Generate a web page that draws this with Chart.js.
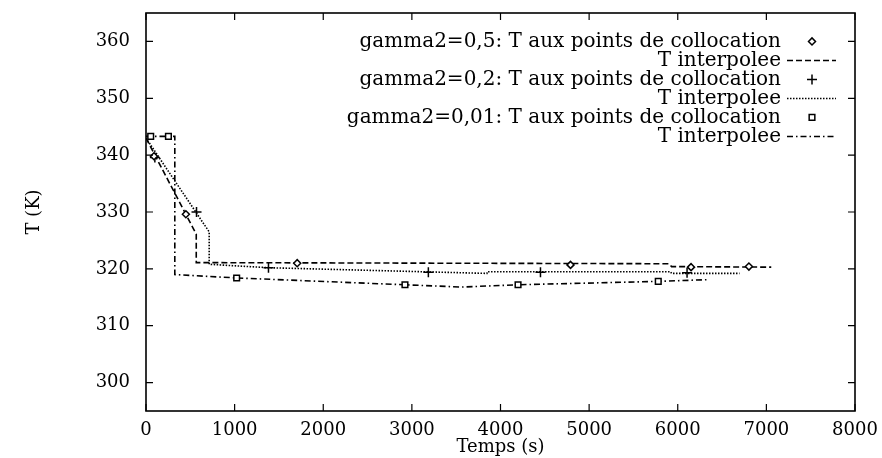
<!DOCTYPE html>
<html>
<head>
<meta charset="utf-8">
<script src="https://cdn.jsdelivr.net/npm/chart.js@4.4.0/dist/chart.umd.min.js"></script>
<style>
  html, body { margin: 0; padding: 0; background: #fff; }
  #wrap { width: 882px; height: 458px; }
</style>
</head>
<body>
<div id="wrap"><canvas id="c" width="882" height="458"></canvas></div>
<script>
// tick labels
const xTicks = [0, 1000, 2000, 3000, 4000, 5000, 6000, 7000, 8000]
const yTicks = [300, 310, 320, 330, 340, 350, 360]

// gamma2=0,5
const t05Pts = [90, 450, 1706, 4790, 6150, 6803]
const T05Pts = [339.8, 329.6, 321.0, 320.7, 320.3, 320.4]
const t05Line = [0, 567, 567, 5900, 5930, 7055]
const T05Line = [343, 326.1, 321.1, 320.9, 320.4, 320.3]

// gamma2=0,2
const t02Pts = [100, 570, 1382, 3186, 4451, 6105]
const T02Pts = [339.6, 330.0, 320.2, 319.4, 319.4, 319.3]
const t02Line = [0, 713, 713, 1382, 3847, 3850, 5920, 5930, 6697]
const T02Line = [343, 326.5, 320.8, 320.2, 319.2, 319.5, 319.5, 319.2, 319.2]

// gamma2=0,01
const t001Pts = [53, 253, 1023, 2922, 4198, 5780]
const T001Pts = [343.3, 343.3, 318.4, 317.2, 317.2, 317.8]
const t001Line = [0, 325, 325, 1023, 2922, 3560, 4198, 5780, 6340]
const T001Line = [343.3, 343.3, 319.0, 318.4, 317.2, 316.8, 317.2, 317.8, 318.1]

const FONT = '"DejaVu Serif", "Liberation Serif", serif'

let pairs = (xs, ys) => xs.map((x, i) => ({ x: x, y: ys[i] }))

function ptSet(label, xs, ys, style, r) {
  return {
    label: label, data: pairs(xs, ys), showLine: false,
    pointStyle: style, pointRadius: r, pointBorderColor: '#000',
    pointBackgroundColor: '#fff', pointBorderWidth: 1.5
  }
}
function lineSet(label, xs, ys, dash) {
  return {
    label: label, data: pairs(xs, ys), showLine: true, pointRadius: 0,
    borderColor: '#000', borderWidth: 1.6, borderDash: dash, tension: 0
  }
}

const datasets = [
  ptSet('gamma2=0,5: T aux points de collocation', t05Pts, T05Pts, 'rectRot', 3.5),
  lineSet('T interpolee', t05Line, T05Line, [6, 3]),
  ptSet('gamma2=0,2: T aux points de collocation', t02Pts, T02Pts, 'cross', 5),
  lineSet('T interpolee', t02Line, T02Line, [1.5, 1.5]),
  ptSet('gamma2=0,01: T aux points de collocation', t001Pts, T001Pts, 'rect', 4),
  lineSet('T interpolee', t001Line, T001Line, [6, 3, 1.5, 3])
]

//frame, inward ticks and legend
const framePlugin = {
  id: 'frame',
  afterDraw(chart) {
    let ctx = chart.ctx
    let a = chart.chartArea
    let sx = chart.scales.x, sy = chart.scales.y
    ctx.save()
    ctx.strokeStyle = '#000'
    ctx.lineWidth = 1.6
    ctx.setLineDash([])
    ctx.strokeRect(a.left, a.top, a.right - a.left, a.bottom - a.top)
    ctx.lineWidth = 1.2
    ctx.beginPath()
    for (let v of xTicks) {
      let px = sx.getPixelForValue(v)
      ctx.moveTo(px, a.bottom); ctx.lineTo(px, a.bottom - 7)
      ctx.moveTo(px, a.top); ctx.lineTo(px, a.top + 7)
    }
    for (let v of yTicks) {
      let py = sy.getPixelForValue(v)
      ctx.moveTo(a.left, py); ctx.lineTo(a.left + 7, py)
      ctx.moveTo(a.right, py); ctx.lineTo(a.right - 7, py)
    }
    ctx.stroke()

    // legend
    let textX = a.right - 74
    let y0 = sy.getPixelForValue(360)
    ctx.font = '20px ' + FONT
    ctx.fillStyle = '#000'
    ctx.textAlign = 'right'
    ctx.textBaseline = 'middle'
    datasets.forEach((ds, i) => {
      let y = y0 + i * 19
      ctx.fillText(ds.label, textX, y)
      if (ds.showLine) {
        ctx.lineWidth = ds.borderWidth
        ctx.setLineDash(ds.borderDash)
        ctx.beginPath()
        ctx.moveTo(a.right - 68, y); ctx.lineTo(a.right - 19, y)
        ctx.stroke()
        ctx.setLineDash([])
      } else {
        ctx.lineWidth = ds.pointBorderWidth
        ctx.fillStyle = '#fff'
        Chart.helpers.drawPoint(ctx, { pointStyle: ds.pointStyle, radius: ds.pointRadius, borderWidth: 1 }, a.right - 43, y)
        ctx.fillStyle = '#000'
      }
    })
    ctx.restore()
  }
}

new Chart(document.getElementById('c'), {
  type: 'scatter',
  data: { datasets: datasets },
  options: {
    responsive: false,
    animation: false,
    layout: { padding: 0 },
    plugins: { legend: { display: false }, tooltip: { enabled: false } },
    scales: {
      x: {
        type: 'linear', min: 0, max: 8000,
        afterBuildTicks: s => { s.ticks = xTicks.map(v => ({ value: v })) },
        afterFit: s => { s.height = 47; s.paddingLeft = 0; s.paddingRight = 27 },
        grid: { display: false }, border: { display: false },
        ticks: { color: '#000', padding: 1, font: { family: FONT, size: 18 }, callback: v => String(v) },
        title: { display: true, text: 'Temps (s)', color: '#000', padding: 0, font: { family: FONT, size: 18 } }
      },
      y: {
        type: 'linear', min: 295, max: 365,
        afterBuildTicks: s => { s.ticks = yTicks.map(v => ({ value: v })) },
        afterFit: s => { s.width = 146; s.paddingTop = 13; s.paddingBottom = 0 },
        grid: { display: false }, border: { display: false },
        ticks: { color: '#000', padding: 8, font: { family: FONT, size: 18 }, callback: v => String(v) },
        title: { display: true, text: 'T (K)', color: '#000', padding: { top: 24, bottom: 0 }, font: { family: FONT, size: 18 } }
      }
    }
  },
  plugins: [framePlugin]
})
</script>
</body>
</html>
